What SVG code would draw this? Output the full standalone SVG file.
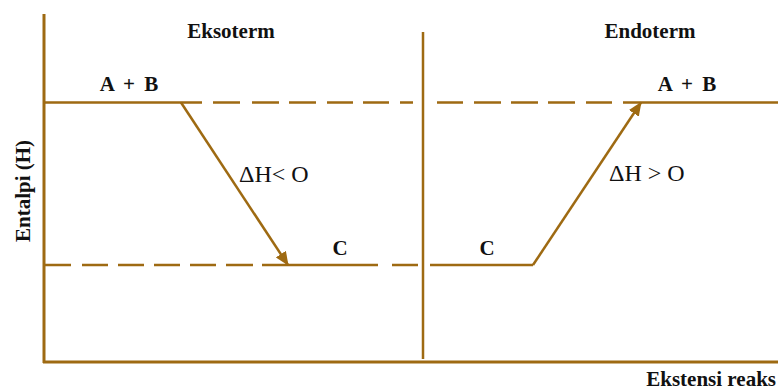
<svg xmlns="http://www.w3.org/2000/svg" width="778" height="391" viewBox="0 0 778 391">
<style>
.ln{stroke:#9E6A12;stroke-width:2.5;fill:none;stroke-linecap:butt}
.ax{stroke:#9E6A12;stroke-width:3;fill:none}
.b{font-family:"Liberation Serif",serif;font-weight:bold;font-size:21px;fill:#111}
.r{font-family:"Liberation Serif",serif;font-size:24px;fill:#111}
</style>
<defs>
<marker id="ah" markerWidth="14" markerHeight="12" refX="13" refY="6" orient="auto" markerUnits="userSpaceOnUse">
<path d="M0,0 L14,6 L0,12 Z" fill="#9E6A12"/>
</marker>
</defs>
<rect width="778" height="391" fill="#fff"/>
<g id="axes">
<line class="ax" x1="44" y1="14" x2="44" y2="363"/>
<line class="ax" x1="43" y1="362" x2="778" y2="362"/>
<line class="ln" x1="423" y1="32" x2="423" y2="359"/>
</g>
<g id="connectors">
<path class="ln" d="M44,102.5H202 M213,102.5H240 M252,102.5H279 M289,102.5H316 M327,102.5H353 M363,102.5H389 M400,102.5H413 M437,102.5H463 M474,102.5H501 M511,102.5H538 M548,102.5H575 M586,102.5H612 M623,102.5H778"/>
<path class="ln" d="M44,265H71 M82,265H108 M118,265H144 M154,265H180 M190,265H216 M226,265H253 M262,265H378 M392,265H418 M430,265H533"/>
<line class="ln" x1="181" y1="102.5" x2="288" y2="265" marker-end="url(#ah)"/>
<line class="ln" x1="533" y1="265" x2="641" y2="102.5" marker-end="url(#ah)"/>
</g>
<g id="labels">
<text class="b" x="231" y="38" text-anchor="middle">Eksoterm</text>
<text class="b" x="650" y="38" text-anchor="middle">Endoterm</text>
<text class="b" x="129" y="91" text-anchor="middle" word-spacing="4">A + B</text>
<text class="b" x="687" y="91" text-anchor="middle" word-spacing="4">A + B</text>
<text class="r" x="239" y="182">ΔH&lt; O</text>
<text class="r" x="609" y="181" xml:space="preserve">ΔH &gt; O</text>
<text class="b" x="340" y="255" text-anchor="middle">C</text>
<text class="b" x="487" y="255" text-anchor="middle">C</text>
<text class="b" transform="translate(30,191) rotate(-90)" text-anchor="middle">Entalpi (H)</text>
<text class="b" x="776" y="386" text-anchor="end">Ekstensi reaks</text>
</g>
</svg>
